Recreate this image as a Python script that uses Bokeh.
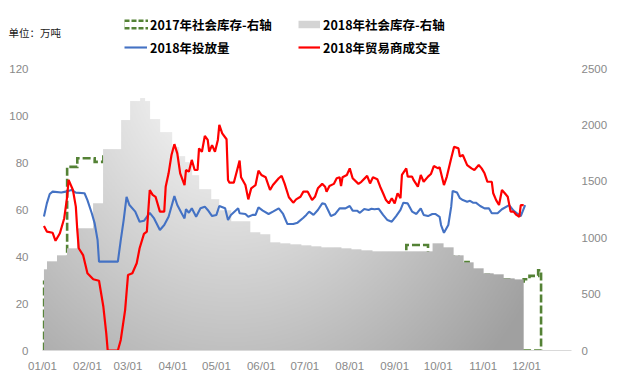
import numpy as np
import pandas as pd
from bokeh.plotting import figure
from bokeh.layouts import column
from bokeh.models import (Range1d, LinearAxis, FixedTicker, DatetimeTickFormatter,
                          Legend, LegendItem, Label)
from bokeh.embed import file_html
from bokeh.resources import INLINE

YEAR = "2018"

# ---------------- data ----------------
month_ticks = ["01-01", "02-01", "03-01", "04-01", "05-01", "06-01",
               "07-01", "08-01", "09-01", "10-01", "11-01", "12-01"]

# 2018年投放量 (left axis, 万吨)
release_dates = ["01-02","01-04","01-06","01-08","01-14","01-17","01-21","01-24","01-30","02-01",
                 "02-04","02-06","02-08","02-09","02-22","02-24","02-26","02-28","03-02","03-06",
                 "03-09","03-12","03-16","03-19","03-23","03-26","03-29","04-02","04-04","04-07",
                 "04-09","04-10","04-12","04-14","04-17","04-20","04-23","04-25","04-28","05-01",
                 "05-03","05-07","05-09","05-11","05-16","05-17","05-21","05-23","05-26","05-28",
                 "05-30","06-02","06-06","06-09","06-13","06-16","06-19","06-23","06-26","06-30",
                 "07-02","07-04","07-07","07-10","07-13","07-15","07-17","07-19","07-22","07-25",
                 "07-29","08-01","08-03","08-06","08-08","08-11","08-14","08-16","08-18","08-21",
                 "08-24","08-27","08-30","09-02","09-05","09-07","09-10","09-13","09-16","09-19",
                 "09-21","09-24","09-27","09-29","10-02","10-03","10-05","10-08","10-10","10-11",
                 "10-14","10-16","10-18","10-21","10-23","10-25","10-27","10-30","11-02","11-05",
                 "11-07","11-11","11-14","11-19","11-22","11-25","11-27","11-30"]
release = [57.0, 62.6, 66.6, 67.6, 67.2, 67.6, 68.3, 67.2, 66.9, 64.0,
           58.4, 54.1, 47.0, 37.8, 37.8, 47.0, 55.5, 65.4, 61.9, 59.1,
           54.8, 55.2, 58.6, 56.2, 51.3, 53.4, 56.9, 65.7, 61.9, 58.4,
           56.2, 60.1, 58.6, 60.5, 56.9, 60.5, 61.2, 59.8, 57.2, 57.7,
           61.5, 60.5, 55.5, 57.7, 60.5, 58.4, 58.1, 56.9, 57.7, 57.7,
           60.9, 59.5, 58.1, 59.1, 60.5, 58.1, 53.8, 53.8, 54.4, 56.5,
           57.7, 59.1, 57.7, 59.8, 62.6, 62.3, 59.8, 57.2, 58.1, 60.5,
           60.5, 61.5, 59.5, 59.5, 58.6, 60.2, 59.8, 60.3, 60.1, 60.3,
           57.7, 55.5, 54.8, 57.2, 59.8, 62.9, 62.6, 59.1, 58.1, 60.5,
           57.7, 57.2, 58.1, 58.1, 56.9, 53.4, 50.1, 53.4, 61.2, 67.9,
           67.2, 64.8, 64.0, 63.3, 63.7, 62.9, 62.9, 61.5, 60.5, 60.5,
           58.4, 58.4, 60.1, 61.9, 59.5, 58.1, 57.2, 61.9]

# 2018年贸易商成交量 (left axis, 万吨)
trade_dates = ["01-02","01-04","01-08","01-10","01-13","01-16","01-18","01-19","01-22","01-24",
               "01-25","01-26","01-29","02-01","02-05","02-09","02-12","02-14","02-15","02-22",
               "02-24","02-27","03-01","03-04","03-07","03-09","03-12","03-14","03-16","03-18",
               "03-20","03-23","03-26","03-27","03-29","03-31","04-02","04-04","04-06","04-09",
               "04-10","04-12","04-14","04-16","04-18","04-19","04-21","04-23","04-25","04-26",
               "04-28","04-30","05-02","05-03","05-05","05-08","05-09","05-10","05-13","05-15",
               "05-17","05-18","05-21","05-23","05-25","05-28","05-30","06-01","06-04","06-07",
               "06-09","06-13","06-15","06-17","06-20","06-23","06-25","06-28","06-30","07-03",
               "07-06","07-08","07-10","07-13","07-15","07-16","07-18","07-21","07-23","07-25",
               "07-26","07-27","07-30","08-01","08-03","08-07","08-09","08-13","08-15","08-17",
               "08-20","08-22","08-24","08-26","08-28","08-30","09-01","09-03","09-05","09-06",
               "09-09","09-10","09-13","09-14","09-17","09-19","09-21","09-24","09-26","09-28",
               "10-01","10-02","10-05","10-07","10-10","10-12","10-15","10-16","10-18","10-21",
               "10-24","10-26","10-29","10-31","11-02","11-04","11-07","11-08","11-10","11-12",
               "11-14","11-16","11-18","11-20","11-22","11-24","11-26","11-27","11-29"]
trade = [53.0, 50.6, 50.1, 46.7, 49.9, 56.3, 65.4, 72.6, 68.3, 61.2,
         51.3, 43.5, 40.6, 32.9, 30.3, 29.7, 18.6, 7.3, 0.0, 0.0,
         4.5, 17.2, 32.1, 32.9, 37.1, 43.5, 49.6, 50.6, 68.3, 66.2,
         65.4, 59.1, 59.1, 69.7, 75.4, 83.2, 87.8, 83.9, 75.4, 70.4,
         76.8, 76.1, 81.1, 76.8, 76.8, 86.0, 84.6, 91.3, 89.6, 84.6,
         87.4, 84.6, 89.6, 96.0, 92.4, 89.9, 72.6, 71.4, 71.4, 76.1,
         80.8, 73.7, 70.4, 64.3, 69.0, 70.4, 76.5, 74.7, 73.7, 68.3,
         70.4, 73.3, 74.3, 71.1, 65.2, 62.9, 64.3, 65.4, 67.6, 67.6,
         64.0, 65.4, 69.0, 70.9, 69.7, 67.6, 70.0, 70.9, 73.3, 73.7,
         70.0, 73.7, 74.7, 77.5, 73.3, 70.9, 71.8, 74.3, 71.1, 73.7,
         72.9, 69.7, 66.9, 64.0, 62.6, 64.8, 62.6, 66.9, 64.8, 74.7,
         77.5, 74.0, 74.0, 72.6, 69.7, 74.7, 71.8, 74.0, 75.1, 78.5,
         77.5, 78.0, 70.4, 74.0, 81.8, 86.7, 86.0, 82.5, 83.2, 78.9,
         77.5, 76.8, 78.9, 77.5, 75.4, 71.8, 71.8, 66.9, 64.0, 61.9,
         68.3, 66.9, 65.4, 59.1, 59.1, 57.7, 56.9, 61.9, 61.9]

# 2018年社会库存 (right axis, weekly steps)
stock18_dates = ["01-02","01-04","01-11","01-18","01-25","02-05","02-12","02-24","03-02","03-09",
                 "03-13","03-16","03-23","03-31","04-05","04-09","04-14","04-19","04-27","05-03",
                 "05-11","05-24","05-31","06-07","06-14","06-21","06-28","07-05","07-12","07-19",
                 "07-26","08-02","08-09","08-16","08-23","08-30","09-06","09-13","09-20","09-27",
                 "10-04","10-11","10-18","10-25","11-01","11-08","11-15","11-22"]
stock18 = [713, 787, 846, 900, 1083, 1304, 1785, 2042, 2204, 2228,
           2204, 2048, 1930, 1800, 1720, 1665, 1548, 1430, 1337, 1238,
           1141, 1052, 1023, 955, 950, 940, 930, 922, 915, 908,
           902, 895, 888, 882, 878, 880, 882, 875, 875, 943,
           912, 846, 778, 728, 686, 669, 642, 630]
stock18_end = "11-29"

# 2017年社会库存 (right axis, weekly steps, same calendar days)
stock17_dates = ["01-02","01-04","01-11","01-18","01-25","02-06","02-12","02-19","02-26","03-05",
                 "03-12","03-19","03-26","04-02","04-09","04-16","04-23","04-30","05-07","05-14",
                 "05-21","05-28","06-04","06-11","06-18","06-25","07-02","07-09","07-16","07-23",
                 "07-30","08-06","08-13","08-20","08-27","09-03","09-09","09-24","10-01","10-08",
                 "10-15","10-22","10-29","11-05","11-12","11-19","11-29","12-03","12-09"]
stock17 = [610, 640, 700, 1628, 1705, 1672, 1720, 1760, 1780, 1740,
           1700, 1640, 1560, 1480, 1400, 1320, 1240, 1160, 1080, 1010,
           970, 940, 915, 900, 890, 880, 870, 862, 855, 850,
           845, 840, 840, 845, 850, 858, 935, 860, 895, 830,
           785, 712, 672, 655, 630, 612, 632, 662, 712]
stock17_end = "12-11"

legend_labels = ["2017年社会库存-右轴", "2018年社会库存-右轴", "2018年投放量", "2018年贸易商成交量"]
unit_text = "单位：万吨"

# ---------------- helpers / styles ----------------
def to_dt(ds):
    return pd.to_datetime([f"{YEAR}-{d}" for d in ds])

GREEN = "#548235"
BLUE = "#4472C4"
RED = "#FF0000"
TICK_COLOR = "#898989"
CJK = "Noto Sans CJK SC"

x_start = pd.Timestamp(f"{YEAR}-01-01")
x_end = pd.Timestamp("2019-01-01")
FRAME_W, FRAME_H = 529, 282
HEADER_H = 60

# ================= main chart =================
p = figure(width=620, height=381 - HEADER_H, x_axis_type="datetime",
           x_range=Range1d(x_start, x_end), y_range=Range1d(0, 120),
           output_backend="svg", toolbar_location=None,
           min_border_left=42, min_border_right=49, min_border_top=8, min_border_bottom=31)
p.frame_align = False
p.extra_y_ranges = {"right": Range1d(0, 2500)}
p.background_fill_color = "white"
p.border_fill_color = "white"
p.outline_line_color = None
p.xgrid.visible = False
p.ygrid.visible = False

# ---- 2017 stock: dashed outline of a step area (drawn behind) ----
d17 = to_dt(stock17_dates)
end17 = pd.Timestamp(f"{YEAR}-{stock17_end}")
xs17, ys17 = [d17[0]], [0]
for i, v in enumerate(stock17):
    nxt = d17[i + 1] if i + 1 < len(d17) else end17
    xs17 += [d17[i], nxt]
    ys17 += [v, v]
xs17 += [end17, d17[0]]
ys17 += [0, 0]
p.line(xs17, ys17, y_range_name="right", line_color=GREEN, line_width=2.6,
       line_dash="8 3", line_join="miter")

# ---- 2018 stock: step area filled with a soft gray gradient ----
d18 = to_dt(stock18_dates)
end18 = pd.Timestamp(f"{YEAR}-{stock18_end}")
n_days = (end18 - d18[0]).days
SUB = 2
ncols = n_days * SUB
YMAX, DY = 2300, 5
nrows = YMAX // DY
col_t = d18[0] + pd.to_timedelta((np.arange(ncols) + 0.5) / SUB, unit="D")
idx = np.searchsorted(d18.values, col_t.values, side="right") - 1
col_v = np.asarray(stock18, dtype=float)[idx]
row_y = (np.arange(nrows) + 0.5) * DY
mask = row_y[:, None] <= col_v[None, :]
xpx = ((col_t - x_start).total_seconds().values / 86400.0) / 365.0 * FRAME_W
ypx = FRAME_H * (1 - row_y / 2500.0)
ddx = (xpx[None, :] - 188.0) * 1.2
ddy = ypx[:, None] + 8.0
rr = np.sqrt(ddx ** 2 + ddy ** 2)
shade = np.clip(258 - 0.227 * rr, 160, 238).astype(np.uint8)
img = np.zeros((nrows, ncols), dtype=np.uint32)
view = img.view(dtype=np.uint8).reshape((nrows, ncols, 4))
view[:, :, 0] = shade
view[:, :, 1] = shade
view[:, :, 2] = shade
view[:, :, 3] = np.where(mask, 255, 0).astype(np.uint8)
x0_ms = d18[0].timestamp() * 1000.0
p.image_rgba(image=[img], x=x0_ms, y=0, dw=n_days * 86400000.0, dh=YMAX,
             y_range_name="right")

# ---- lines ----
p.line(to_dt(release_dates), release, line_color=BLUE, line_width=2.1)
p.line(to_dt(trade_dates), trade, line_color=RED, line_width=2.2)

# ---- axes ----
def style_axis(ax, standoff):
    ax.axis_line_color = None
    ax.major_tick_line_color = None
    ax.minor_tick_line_color = None
    ax.major_tick_out = 0
    ax.major_tick_in = 0
    ax.minor_tick_out = 0
    ax.minor_tick_in = 0
    ax.major_label_text_color = TICK_COLOR
    ax.major_label_text_font = "Liberation Sans"
    ax.major_label_text_font_size = "11.5px"
    ax.major_label_standoff = standoff

yl = p.yaxis[0]
style_axis(yl, 14)
yl.ticker = FixedTicker(ticks=[0, 20, 40, 60, 80, 100, 120])

yr = LinearAxis(y_range_name="right")
style_axis(yr, 10)
yr.ticker = FixedTicker(ticks=[0, 500, 1000, 1500, 2000, 2500])
p.add_layout(yr, "right")

xa = p.xaxis[0]
style_axis(xa, 9)
xa.axis_line_color = "#d9d9d9"
xa.axis_line_width = 1
xa.ticker = FixedTicker(ticks=[t.timestamp() * 1000.0 for t in to_dt(month_ticks)])
fmt = "%m/%d"
xa.formatter = DatetimeTickFormatter(milliseconds=fmt, seconds=fmt, minsec=fmt, minutes=fmt,
                                     hourmin=fmt, hours=fmt, days=fmt, months=fmt, years=fmt)

# ================= header with legend =================
h = figure(width=620, height=HEADER_H, x_range=Range1d(0, 1), y_range=Range1d(0, 1),
           output_backend="svg", toolbar_location=None,
           x_axis_location=None, y_axis_location=None, min_border=0)
h.frame_align = False
h.xgrid.visible = False
h.ygrid.visible = False
h.outline_line_color = None
h.background_fill_color = "white"
h.border_fill_color = "white"

# legend swatches: one point each, placed outside the visible header range
sw17_band = h.line(x=[5, 6], y=[5, 5], line_color=GREEN, line_width=10, line_dash="5 2")
sw17_hole = h.line(x=[5, 6], y=[5, 5], line_color="white", line_width=5)
sw18 = h.line(x=[5, 6], y=[5, 5], line_color="#d4d4d4", line_width=7.5)
swb = h.line(x=[5, 6], y=[5, 5], line_color=BLUE, line_width=2.1)
swr = h.line(x=[5, 6], y=[5, 5], line_color=RED, line_width=2.2)

def add_legend(renderers, label, x, y, gw, standoff):
    leg = Legend(items=[LegendItem(label=label, renderers=renderers)],
                 location=(x, y), orientation="vertical",
                 glyph_width=gw, glyph_height=20, label_height=20, label_width=1,
                 label_standoff=standoff, padding=0, margin=0, spacing=0,
                 border_line_color=None, background_fill_alpha=0,
                 label_text_font=CJK, label_text_font_style="bold",
                 label_text_font_size="12.5px", label_text_color="#000000",
                 label_text_baseline="middle")
    h.add_layout(leg, "center")

add_legend([sw17_band, sw17_hole], legend_labels[0], 124, 26, 24, 2)
add_legend([sw18], legend_labels[1], 298, 26, 22, 3)
add_legend([swb], legend_labels[2], 124, 3, 23, 3)
add_legend([swr], legend_labels[3], 298, 3, 22, 3)

unit = Label(x=8, y=HEADER_H - 31.7, x_units="screen", y_units="screen", text=unit_text,
             text_font=CJK, text_font_size="10.5px", text_color="#1a1a1a",
             text_baseline="middle", text_align="left")
h.add_layout(unit)

layout = column(h, p, spacing=0)
open("out.html", "w").write(file_html(layout, INLINE))
